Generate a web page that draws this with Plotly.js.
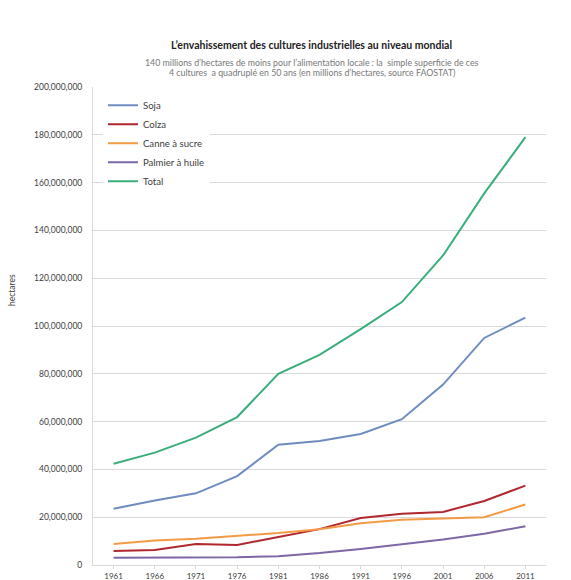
<!DOCTYPE html>
<html>
<head>
<meta charset="utf-8">
<script src="https://cdn.plot.ly/plotly-3.0.1.min.js"></script>
<style>html,body{margin:0;padding:0;background:#fff;}#chart{width:571px;height:580px;}</style>
</head>
<body>
<div id="chart"></div>
<script>
var years = ["1961","1966","1971","1976","1981","1986","1991","1996","2001","2006","2011"];
var soja = [23500000, 27000000, 30000000, 37200000, 50300000, 51900000, 54800000, 61000000, 75500000, 95000000, 103500000];
var colza = [5900000, 6300000, 8800000, 8400000, 11700000, 15000000, 19700000, 21400000, 22200000, 26800000, 33200000];
var canne = [8800000, 10300000, 11000000, 12200000, 13400000, 15000000, 17500000, 18900000, 19300000, 20000000, 25300000];
var palmier = [3000000, 3000000, 3100000, 3200000, 3700000, 5000000, 6700000, 8600000, 10700000, 13100000, 16200000];
var total = [42400000, 47000000, 53300000, 61900000, 80000000, 87900000, 98700000, 110000000, 129500000, 155500000, 179000000];
var seriesNames = ["Soja", "Colza", "Canne à sucre", "Palmier à huile", "Total"];
var seriesData = [soja, colza, canne, palmier, total];
var colors = ["#6f8cc0", "#b0272f", "#f39a45", "#7e67a6", "#3aae7a"];

var traces = seriesData.map(function(d, i){
  return {x: years, y: d, type: "scatter", mode: "lines", name: seriesNames[i],
          line: {color: colors[i], width: 2}};
});

var font = "Lato, 'Open Sans', sans-serif";
var layout = {
  width: 571, height: 580,
  margin: {l: 93, r: 25, t: 87, b: 15},
  paper_bgcolor: "#fff", plot_bgcolor: "#fff",
  font: {family: font, size: 8.5, color: "#404040"},
  showlegend: true,
  legend: {x: 0.022, y: 0.992, xanchor: "left", yanchor: "top", bgcolor: "#fff",
           font: {family: font, size: 9.6, color: "#404040"}, tracegroupgap: 0, itemwidth: 30},
  xaxis: {type: "category", range: [-0.5, 10.5], showgrid: false, zeroline: false,
          showline: true, linecolor: "#d9d9d9", ticks: "outside", ticklen: 3, tickcolor: "#d9d9d9",
          tickfont: {family: font, size: 8, color: "#404040"}, fixedrange: true},
  yaxis: {range: [0, 200000000], dtick: 20000000, tickformat: ",d", showgrid: true, gridcolor: "#d9d9d9",
          zeroline: false, showline: true, linecolor: "#d9d9d9", ticks: "", ticklen: 0,
          ticklabelstandoff: 8,
          tickfont: {family: font, size: 8.5, color: "#404040"}},
  annotations: [
    {text: "<b>L’envahissement des cultures industrielles au niveau mondial</b>", xref: "paper", yref: "paper",
     x: 0.483, y: 1, xanchor: "center", yanchor: "middle", yshift: 42, showarrow: false,
     font: {family: font, size: 10.5, color: "#222"}},
    {text: "140 millions d’hectares de moins pour l’alimentation locale : la  simple superficie de ces", xref: "paper", yref: "paper",
     x: 0.483, y: 1, xanchor: "center", yanchor: "middle", yshift: 25, showarrow: false,
     font: {family: font, size: 8.8, color: "#777"}},
    {text: "4 cultures  a quadruplé en 50 ans (en millions d’hectares, source FAOSTAT)", xref: "paper", yref: "paper",
     x: 0.483, y: 1, xanchor: "center", yanchor: "middle", yshift: 15, showarrow: false,
     font: {family: font, size: 8.8, color: "#777"}},
    {text: "hectares", xref: "paper", yref: "paper", x: -0.179, y: 0.575, xanchor: "center", yanchor: "middle",
     textangle: -90, showarrow: false, font: {family: font, size: 8.5, color: "#404040"}}
  ]
};
Plotly.newPlot("chart", traces, layout, {displayModeBar: false, staticPlot: true});
</script>
</body>
</html>
